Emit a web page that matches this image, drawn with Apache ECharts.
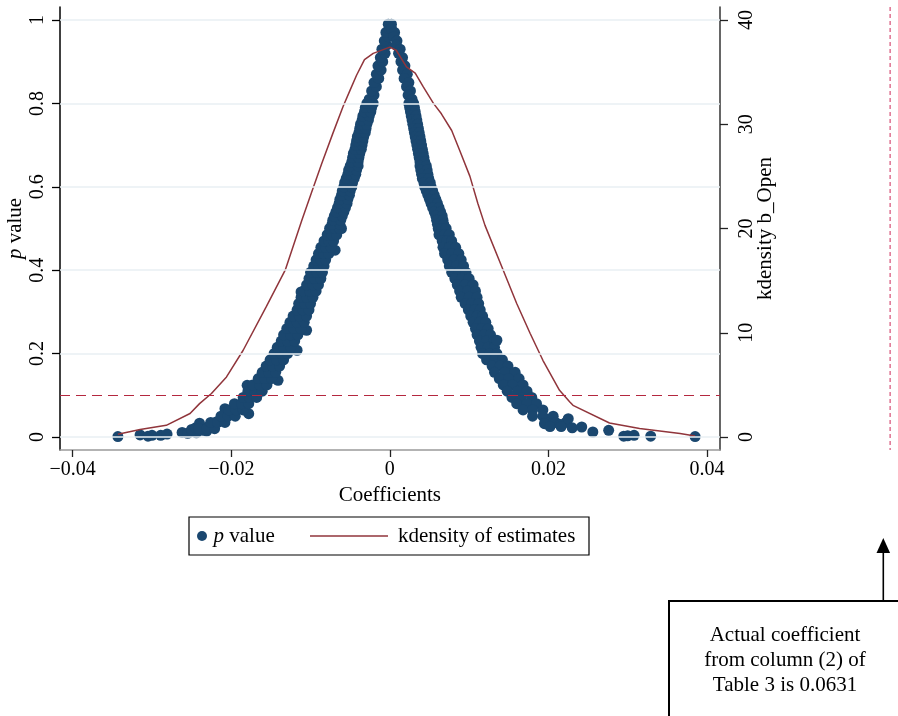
<!DOCTYPE html>
<html>
<head>
<meta charset="utf-8">
<script src="https://cdn.jsdelivr.net/npm/echarts@6/dist/echarts.min.js"></script>
<style>html,body{margin:0;padding:0;background:#fff}#c{width:898px;height:716px}</style>
</head>
<body>
<div id="c"></div>
<script>
// ---------- data ----------
const xTickValues = [-0.04, -0.02, 0, 0.02, 0.04];
const xTickLabels = ['\u22120.04', '\u22120.02', '0', '0.02', '0.04'];
const pTickValues = [0, 0.2, 0.4, 0.6, 0.8, 1];
const pTickLabels = ['0', '0.2', '0.4', '0.6', '0.8', '1'];
const kTickValues = [0, 10, 20, 30, 40];
const kTickLabels = ['0', '10', '20', '30', '40'];
const pThreshold = 0.1;
const actualCoefficient = 0.0631;

// [coefficient, p value] of the estimates, left of the peak
const pValuesLeft = [
  [-0.0343,0.001],[-0.0315,0.005],[-0.0305,0.002],[-0.0300,0.004],[-0.0289,0.004],[-0.0281,0.007],
  [-0.0262,0.011],[-0.0255,0.009],[-0.0250,0.013],[-0.0244,0.010],[-0.0250,0.018],[-0.0245,0.022],
  [-0.0240,0.033],[-0.0236,0.016],[-0.0231,0.014],[-0.0228,0.026],[-0.0219,0.036],[-0.0208,0.068],
  [-0.0178,0.056],[-0.0180,0.124],[-0.0152,0.176],[-0.0141,0.136],[-0.0117,0.208],[-0.0105,0.256],
  [-0.0112,0.348],[-0.0069,0.448],[-0.0061,0.500],
  [-0.0241,0.020],[-0.0231,0.020],[-0.0221,0.020],
  [-0.0226,0.035],[-0.0217,0.035],[-0.0208,0.035],
  [-0.0213,0.050],[-0.0204,0.050],[-0.0195,0.050],
  [-0.0203,0.065],[-0.0194,0.065],[-0.0185,0.065],
  [-0.0196,0.080],[-0.0187,0.080],[-0.0178,0.080],
  [-0.0185,0.095],[-0.0177,0.095],[-0.0168,0.095],
  [-0.0179,0.110],[-0.0170,0.110],[-0.0161,0.110],
  [-0.0173,0.125],[-0.0164,0.125],[-0.0155,0.125],
  [-0.0166,0.140],[-0.0158,0.140],[-0.0149,0.140],
  [-0.0161,0.155],[-0.0153,0.155],[-0.0144,0.155],
  [-0.0156,0.170],[-0.0148,0.170],[-0.0139,0.170],
  [-0.0151,0.185],[-0.0143,0.185],[-0.0134,0.185],
  [-0.0146,0.200],[-0.0137,0.200],[-0.0129,0.200],
  [-0.0142,0.215],[-0.0134,0.215],[-0.0125,0.215],
  [-0.0137,0.230],[-0.0129,0.230],[-0.0120,0.230],
  [-0.0134,0.245],[-0.0125,0.245],[-0.0116,0.245],
  [-0.0130,0.260],[-0.0121,0.260],[-0.0112,0.260],
  [-0.0126,0.275],[-0.0117,0.275],[-0.0108,0.275],
  [-0.0122,0.290],[-0.0114,0.290],[-0.0105,0.290],
  [-0.0117,0.305],[-0.0110,0.305],[-0.0102,0.305],
  [-0.0115,0.320],[-0.0107,0.320],[-0.0100,0.320],
  [-0.0112,0.335],[-0.0105,0.335],[-0.0097,0.335],
  [-0.0109,0.350],[-0.0101,0.350],[-0.0093,0.350],
  [-0.0105,0.365],[-0.0097,0.365],[-0.0090,0.365],
  [-0.0102,0.380],[-0.0095,0.380],[-0.0087,0.380],
  [-0.0100,0.395],[-0.0092,0.395],[-0.0085,0.395],
  [-0.0096,0.410],[-0.0090,0.410],[-0.0083,0.410],
  [-0.0093,0.425],[-0.0087,0.425],[-0.0081,0.425],
  [-0.0090,0.440],[-0.0083,0.440],[-0.0077,0.440],
  [-0.0087,0.455],[-0.0081,0.455],[-0.0074,0.455],
  [-0.0083,0.470],[-0.0077,0.470],[-0.0071,0.470],
  [-0.0079,0.485],[-0.0073,0.485],[-0.0067,0.485],
  [-0.0076,0.500],[-0.0069,0.500],[-0.0063,0.500],
  [-0.0073,0.51],[-0.0063,0.51],[-0.0072,0.52],[-0.0062,0.52],[-0.0070,0.53],[-0.0060,0.53],
  [-0.0068,0.54],[-0.0058,0.54],[-0.0066,0.55],[-0.0056,0.55],[-0.0064,0.56],[-0.0054,0.56],
  [-0.0063,0.57],[-0.0053,0.57],[-0.0061,0.58],[-0.0051,0.58],[-0.0060,0.59],[-0.0050,0.59],
  [-0.0058,0.60],[-0.0048,0.60],[-0.0057,0.61],[-0.0047,0.61],[-0.0055,0.62],[-0.0045,0.62],
  [-0.0053,0.63],[-0.0043,0.63],[-0.0052,0.64],[-0.0042,0.64],[-0.0050,0.65],[-0.0040,0.65],
  [-0.0048,0.66],[-0.0040,0.66],[-0.0047,0.67],[-0.0039,0.67],[-0.0046,0.68],[-0.0038,0.68],
  [-0.0044,0.69],[-0.0036,0.69],[-0.0043,0.70],[-0.0035,0.70],[-0.0042,0.71],[-0.0034,0.71],
  [-0.0041,0.72],[-0.0033,0.72],[-0.0039,0.73],[-0.0031,0.73],[-0.0038,0.74],[-0.0030,0.74],
  [-0.0037,0.75],[-0.0029,0.75],[-0.0035,0.76],[-0.0027,0.76],[-0.0034,0.77],[-0.0026,0.77],
  [-0.0032,0.78],[-0.0024,0.78],[-0.0031,0.79],[-0.0023,0.79],[-0.0029,0.80],[-0.0021,0.80],
  [-0.0026,0.81],[-0.0020,0.82],[-0.0023,0.83],[-0.0017,0.84],[-0.0020,0.85],[-0.0014,0.86],
  [-0.0017,0.87],[-0.0011,0.88],[-0.0015,0.89],[-0.0009,0.90],[-0.0012,0.91],[-0.0006,0.92],
  [-0.0010,0.93],[-0.0004,0.94],[-0.0007,0.95],[-0.0002,0.96],[-0.0005,0.97],[-0.0001,0.98],
  [-0.0002,0.99]
];
// [coefficient, p value] of the estimates, right of the peak
const pValuesRight = [
  [0.0002,0.99],[0.0002,0.98],[0.0006,0.97],[0.0005,0.96],[0.0009,0.95],[0.0008,0.94],
  [0.0013,0.93],[0.0011,0.92],[0.0016,0.91],[0.0014,0.90],[0.0019,0.89],[0.0016,0.88],
  [0.0022,0.87],[0.0018,0.86],[0.0024,0.85],[0.0021,0.84],[0.0026,0.83],[0.0023,0.82],
  [0.0028,0.81],
  [0.0024,0.80],[0.0030,0.80],[0.0025,0.79],[0.0031,0.79],[0.0026,0.78],[0.0032,0.78],
  [0.0027,0.77],[0.0033,0.77],[0.0028,0.76],[0.0034,0.76],[0.0029,0.75],[0.0035,0.75],
  [0.0030,0.74],[0.0036,0.74],[0.0031,0.73],[0.0037,0.73],[0.0032,0.72],[0.0038,0.72],
  [0.0033,0.71],[0.0039,0.71],[0.0034,0.70],[0.0040,0.70],[0.0035,0.69],[0.0041,0.69],
  [0.0036,0.68],[0.0042,0.68],[0.0037,0.67],[0.0043,0.67],[0.0038,0.66],[0.0044,0.66],
  [0.0038,0.65],[0.0046,0.65],[0.0039,0.64],[0.0047,0.64],[0.0040,0.63],[0.0048,0.63],
  [0.0041,0.62],[0.0049,0.62],[0.0043,0.61],[0.0051,0.61],[0.0044,0.60],[0.0052,0.60],
  [0.0046,0.59],[0.0054,0.59],[0.0048,0.58],[0.0056,0.58],[0.0050,0.57],[0.0058,0.57],
  [0.0052,0.56],[0.0060,0.56],[0.0054,0.55],[0.0062,0.55],[0.0056,0.54],[0.0064,0.54],
  [0.0058,0.53],[0.0066,0.53],[0.0059,0.52],[0.0067,0.52],[0.0060,0.51],[0.0068,0.51],
  [0.0061,0.500],[0.0066,0.500],[0.0071,0.500],
  [0.0062,0.485],[0.0069,0.485],[0.0075,0.485],
  [0.0066,0.470],[0.0072,0.470],[0.0078,0.470],
  [0.0067,0.455],[0.0075,0.455],[0.0083,0.455],
  [0.0069,0.440],[0.0078,0.440],[0.0087,0.440],
  [0.0073,0.425],[0.0081,0.425],[0.0090,0.425],
  [0.0075,0.410],[0.0084,0.410],[0.0093,0.410],
  [0.0078,0.395],[0.0087,0.395],[0.0096,0.395],
  [0.0082,0.380],[0.0091,0.380],[0.0100,0.380],
  [0.0085,0.365],[0.0095,0.365],[0.0105,0.365],
  [0.0088,0.350],[0.0098,0.350],[0.0108,0.350],
  [0.0090,0.335],[0.0100,0.335],[0.0110,0.335],
  [0.0095,0.320],[0.0103,0.320],[0.0112,0.320],
  [0.0099,0.305],[0.0107,0.305],[0.0114,0.305],
  [0.0102,0.290],[0.0110,0.290],[0.0117,0.290],
  [0.0105,0.275],[0.0113,0.275],[0.0121,0.275],
  [0.0108,0.260],[0.0116,0.260],[0.0124,0.260],
  [0.0110,0.245],[0.0119,0.245],[0.0127,0.245],
  [0.0113,0.230],[0.0122,0.230],[0.0131,0.230],
  [0.0115,0.215],[0.0124,0.215],[0.0132,0.215],
  [0.0117,0.200],[0.0126,0.200],[0.0135,0.200],
  [0.0122,0.185],[0.0132,0.185],[0.0142,0.185],
  [0.0129,0.170],[0.0139,0.170],[0.0149,0.170],
  [0.0132,0.155],[0.0145,0.155],[0.0158,0.155],
  [0.0138,0.140],[0.0150,0.140],[0.0163,0.140],
  [0.0143,0.125],[0.0155,0.125],[0.0168,0.125],
  [0.0148,0.110],[0.0161,0.110],[0.0173,0.110],
  [0.0154,0.095],[0.0166,0.095],[0.0179,0.095],
  [0.0160,0.080],[0.0173,0.080],[0.0185,0.080],
  [0.0168,0.065],[0.0180,0.065],[0.0193,0.065],
  [0.0180,0.050],[0.0193,0.050],[0.0206,0.050],
  [0.0197,0.035],[0.0209,0.035],[0.0222,0.035],
  [0.0135,0.232],[0.0195,0.032],[0.0202,0.025],[0.0215,0.030],[0.0216,0.025],[0.0225,0.044],
  [0.0230,0.022],[0.0242,0.024],[0.0256,0.012],[0.0276,0.016],[0.0295,0.002],[0.0300,0.003],
  [0.0308,0.004],[0.0329,0.002],[0.0385,0.001]
];
// kernel density of the estimates (right axis)
const kdensityCoef = [-0.0343,-0.0315,-0.0282,-0.0252,-0.0240,-0.0225,-0.0206,-0.0185,-0.0156,-0.0132,
  -0.0111,-0.0099,-0.0086,-0.0072,-0.0059,-0.0050,-0.0042,-0.0032,-0.0021,0.0000,
  0.0008,0.0021,0.0032,0.0042,0.0055,0.0065,0.0078,0.0088,0.0101,0.0111,
  0.0120,0.0143,0.0160,0.0177,0.0193,0.0214,0.0227,0.0231,0.0277,0.0315,0.0366,0.0385];
const kdensityValue = [0.26,0.71,1.12,2.25,3.2,4.17,5.76,8.32,12.48,16.0,
  20.8,23.4,26.2,29.1,31.7,33.3,34.7,36.2,36.8,37.4,
  37.1,35.5,34.9,33.6,32.0,31.0,29.4,27.5,25.0,22.4,
  20.3,16.0,12.8,9.93,7.36,4.48,3.36,3.04,1.34,0.81,0.33,0.10];

// ---------- chart ----------
const FONT = "'Liberation Serif','Times New Roman',serif";
const NAVY = '#1a476f';
const MAROON = '#90353b';
const P_MIN = -0.0312, P_MAX = 1.0312;   // frame extent of the p axis
const lookup = (vals, labs) => v => {
  for (let i = 0; i < vals.length; i++) if (Math.abs(vals[i] - v) < 1e-9) return labs[i];
  return '';
};

const chart = echarts.init(document.getElementById('c'), null, {renderer: 'canvas'});
const tickFont = {fontFamily: FONT, fontSize: 20, color: '#000'};
const nameFont = {fontFamily: FONT, fontSize: 21, color: '#000'};

chart.setOption({
  animation: false,
  backgroundColor: '#fff',
  grid: [
    {left: 72.7, right: 191, top: 20, bottom: 279, containLabel: false, outerBoundsMode: 'none'},
    {left: 60, right: 178, top: 7, bottom: 266, containLabel: false, outerBoundsMode: 'none'}
  ],
  xAxis: [
    {gridIndex: 0, type: 'value', min: -0.04, max: 0.04, interval: 0.02, position: 'bottom', offset: 13,
     axisLine: {show: false, onZero: false}, splitLine: {show: false},
     axisTick: {show: true, length: 7, lineStyle: {color: '#222', width: 1.3}},
     axisLabel: Object.assign({margin: 10, formatter: lookup(xTickValues, xTickLabels)}, tickFont),
     name: 'Coefficients', nameLocation: 'middle', nameGap: 33, nameTextStyle: nameFont},
    {gridIndex: 1, type: 'value', min: -0.0416, max: 0.04164, position: 'bottom',
     axisLine: {show: true, onZero: false, lineStyle: {color: '#9a9a9a', width: 1.5}},
     axisTick: {show: false}, axisLabel: {show: false}, splitLine: {show: false}}
  ],
  yAxis: [
    {gridIndex: 0, type: 'value', min: 0, max: 1, interval: 0.2, position: 'left', offset: 12.7,
     axisLine: {show: false, onZero: false}, splitLine: {show: false},
     axisTick: {show: true, length: 8, lineStyle: {color: '#000', width: 1.3}},
     axisLabel: Object.assign({rotate: 90, margin: 12, formatter: lookup(pTickValues, pTickLabels)}, tickFont),
     name: '{i|p} value', nameLocation: 'middle', nameGap: 34, nameRotate: 90, nameMoveOverlap: false,
     nameTextStyle: Object.assign({rich: {i: {fontFamily: FONT, fontSize: 21, fontStyle: 'italic', color: '#000'}}}, nameFont)},
    {gridIndex: 0, type: 'value', min: 0, max: 40, interval: 10, position: 'right', offset: 13,
     axisLine: {show: false, onZero: false}, splitLine: {show: false},
     axisTick: {show: true, length: 8, lineStyle: {color: '#222', width: 1.3}},
     axisLabel: Object.assign({rotate: 90, margin: 17, formatter: lookup(kTickValues, kTickLabels)}, tickFont),
     name: 'kdensity b_Open', nameLocation: 'middle', nameGap: 35, nameRotate: 90, nameMoveOverlap: false,
     nameTextStyle: nameFont},
    {gridIndex: 1, type: 'value', min: P_MIN, max: P_MAX, position: 'left',
     axisLine: {show: true, onZero: false, lineStyle: {color: '#000', width: 1.5}},
     axisTick: {show: false}, axisLabel: {show: false}, splitLine: {show: false}},
    {gridIndex: 1, type: 'value', min: P_MIN, max: P_MAX, position: 'right',
     axisLine: {show: true, onZero: false, lineStyle: {color: '#333', width: 1.5}},
     axisTick: {show: false}, axisLabel: {show: false}, splitLine: {show: false}}
  ],
  legend: [
    {data: [{name: 'p value', icon: 'circle'}], left: 197, top: 524, padding: 0,
     itemWidth: 13, itemHeight: 10, selectedMode: false,
     formatter: () => '{i|p} value',
     textStyle: {fontFamily: FONT, fontSize: 21, color: '#000', lineHeight: 24,
       rich: {i: {fontFamily: FONT, fontSize: 21, fontStyle: 'italic', color: '#000'}}}},
    {data: [{name: 'kdensity of estimates', icon: 'path://M0,0H100V2H0Z'}], left: 310, top: 524, padding: 0,
     itemWidth: 78, itemHeight: 2, selectedMode: false,
     textStyle: {fontFamily: FONT, fontSize: 21, color: '#000', lineHeight: 24, padding: [0, 0, 0, 5]}}
  ],
  series: [
    {type: 'line', name: 'gridlines', xAxisIndex: 1, yAxisIndex: 2, data: [], z: 1, silent: true,
     markLine: {silent: true, symbol: 'none', label: {show: false},
       lineStyle: {color: '#e9eff3', width: 1.6, type: 'solid'},
       data: pTickValues.map(v => ({yAxis: v}))}},
    {type: 'line', name: 'threshold', xAxisIndex: 1, yAxisIndex: 2, data: [], z: 2, silent: true,
     markLine: {silent: true, symbol: 'none', label: {show: false},
       lineStyle: {color: '#b4283f', width: 1.2, type: [10, 6]},
       data: [{yAxis: pThreshold}]}},
    {type: 'scatter', name: 'p value', xAxisIndex: 0, yAxisIndex: 0, z: 3, clip: false,
     symbol: 'circle', symbolSize: 11, itemStyle: {color: NAVY, opacity: 1},
     data: pValuesLeft.concat(pValuesRight)},
    {type: 'line', name: 'kdensity of estimates', xAxisIndex: 0, yAxisIndex: 1, z: 4,
     showSymbol: false, symbol: 'none', smooth: false, clip: false,
     itemStyle: {color: MAROON}, lineStyle: {color: MAROON, width: 1.5},
     data: kdensityCoef.map((c, i) => [c, kdensityValue[i]])}
  ],
  graphic: [
    {id: 'legendBox', type: 'rect', shape: {x: 189, y: 517, width: 400, height: 38},
     style: {fill: 'none', stroke: '#000', lineWidth: 1.2}, z: 10},
    {id: 'noteBox', type: 'rect', shape: {x: 669, y: 601, width: 240, height: 130},
     style: {fill: 'none', stroke: '#000', lineWidth: 2}, z: 10},
    {id: 'noteText', type: 'text', x: 785, y: 623, z: 10,
     style: {text: 'Actual coefficient\nfrom column (2) of\nTable 3 is ' + actualCoefficient,
       fill: '#000', font: '21px ' + FONT, textAlign: 'center', textVerticalAlign: 'top', lineHeight: 25}},
    {id: 'arrowShaft', type: 'line', shape: {x1: 883.3, y1: 601, x2: 883.3, y2: 550}, style: {stroke: '#000', lineWidth: 1.6}, z: 10},
    {id: 'arrowHead', type: 'polygon', shape: {points: [[883.3, 538], [876.5, 553], [890.1, 553]]}, style: {fill: '#000'}, z: 10}
  ]
});

// actual coefficient (beyond the plotted range) positioned through the chart's own coefficient scale
const ax = chart.convertToPixel({xAxisIndex: 1}, actualCoefficient);
const yTop = chart.convertToPixel({yAxisIndex: 2}, P_MAX);
const yBot = chart.convertToPixel({yAxisIndex: 2}, P_MIN);
chart.setOption({
  graphic: [
    {id: 'actualLine', type: 'line', z: 5,
     shape: {x1: ax, y1: yTop, x2: ax, y2: yBot},
     style: {stroke: '#e07b98', lineWidth: 1.6, lineDash: [4, 3]}}
  ]
});
</script>
</body>
</html>
